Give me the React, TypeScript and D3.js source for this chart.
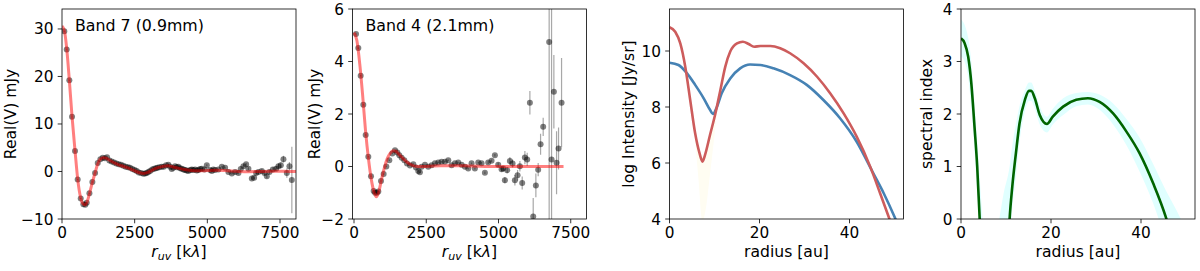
import React from "react";
import * as d3 from "d3";

// ---- Band 7 visibilities: [r_uv (kλ), Re(V) (mJy), error]
const band7Vis: [number, number, number][] = [
  [79, 29.5, 0.1], [162, 25.7, 0.1], [252, 19.2, 0.1], [345, 11.5, 0.1], [448, 4.3, 0.1],
  [540, -1.7, 0.1], [644, -5.7, 0.1], [735, -6.9, 0.1], [800, -7.0, 0.1], [850, -6.6, 0.1],
  [943, -4.6, 0.1], [1045, -2.2, 0.1], [1138, -0.3, 0.1], [1229, 1.8, 0.1], [1320, 2.6, 0.1],
  [1400, 2.9, 0.1], [1480, 2.8, 0.1], [1550, 3.0, 0.1], [1630, 2.3, 0.1], [1710, 2.1, 0.1],
  [1790, 1.9, 0.1], [1870, 1.7, 0.1], [1950, 1.5, 0.1], [2030, 1.4, 0.1], [2110, 1.2, 0.1],
  [2190, 1.0, 0.1], [2270, 0.9, 0.1], [2341, 0.8, 0.1], [2420, 0.5, 0.1], [2500, 0.3, 0.1],
  [2570, 0.1, 0.1], [2640, -0.2, 0.1], [2720, -0.3, 0.1], [2799, -0.5, 0.1], [2860, -0.4, 0.1],
  [2914, -0.3, 0.1], [2970, -0.1, 0.1], [3029, 0.1, 0.1], [3100, 0.4, 0.1], [3167, 0.6, 0.1],
  [3230, 0.7, 0.1], [3282, 0.8, 0.1], [3350, 0.9, 0.1], [3432, 1.0, 0.1], [3500, 1.0, 0.1],
  [3580, 1.3, 0.1], [3660, 1.4, 0.1], [3720, 1.0, 0.1], [3776, 0.5, 0.1], [3830, 0.8, 0.1],
  [3890, 1.1, 0.1], [3950, 0.9, 0.1], [4004, 1.0, 0.1], [4060, 0.7, 0.1], [4120, 0.6, 0.1],
  [4180, 0.4, 0.1], [4234, 0.3, 0.1], [4290, 0.2, 0.1], [4348, 0.1, 0.1], [4410, 0.3, 0.1],
  [4465, 0.4, 0.1], [4520, 0.3, 0.1], [4578, 0.4, 0.1], [4640, 0.2, 0.1], [4692, 0.3, 0.1],
  [4750, 0.5, 0.1], [4809, 0.6, 0.1], [4900, 0.4, 0.2], [4981, 1.3, 0.2], [5095, 0.3, 0.2],
  [5153, 0.1, 0.2], [5208, 0.4, 0.2], [5267, 0.3, 0.2], [5381, 0.4, 0.2], [5497, 1.0, 0.2],
  [5611, 0.8, 0.2], [5725, -0.1, 0.2], [5842, -0.4, 0.3], [5955, -0.1, 0.3], [6069, -0.3, 0.3],
  [6150, 0.5, 0.3], [6241, 1.1, 0.3], [6334, 1.5, 0.3], [6413, 0.6, 0.3], [6530, -1.5, 0.3],
  [6609, -1.3, 0.3], [6680, -0.3, 0.4], [6757, -0.1, 0.4], [6874, 0.1, 0.4], [6964, -0.3, 0.4],
  [7046, -1.0, 0.4], [7136, -0.1, 0.4], [7253, 0.4, 0.5], [7367, 0.6, 0.5], [7446, 1.1, 0.5],
  [7528, 1.3, 0.6], [7618, 2.6, 0.7], [7735, -0.3, 1.0], [7824, 1.1, 0.9], [7907, -1.8, 7.0],
];

const band7Model: [number, number][] = [
  [0, 30.6], [80, 29.7], [160, 26.0], [250, 19.4], [345, 11.6], [448, 4.4], [540, -1.6],
  [644, -5.6], [720, -6.8], [780, -7.0], [850, -6.6], [943, -4.7], [1045, -2.3], [1138, -0.3],
  [1229, 1.6], [1320, 2.6], [1420, 2.9], [1520, 2.8], [1650, 2.3], [1800, 1.8], [1950, 1.4],
  [2100, 1.1], [2250, 0.8], [2400, 0.4], [2550, 0.0], [2700, -0.3], [2800, -0.4], [2950, -0.2],
  [3100, 0.3], [3300, 0.8], [3500, 1.1], [3650, 1.2], [3800, 1.0], [4000, 0.7], [4200, 0.4],
  [4450, 0.2], [4700, 0.15], [5000, 0.2], [5300, 0.25], [5600, 0.2], [6000, 0.05],
  [6400, -0.05], [6800, 0], [7200, 0.05], [7600, 0.05], [8050, 0],
];

// ---- Band 4 visibilities
const band4Vis: [number, number, number][] = [
  [69, 5.05, 0.03], [149, 4.51, 0.03], [231, 3.46, 0.03], [322, 2.35, 0.03], [404, 1.2, 0.03],
  [495, 0.37, 0.03], [588, -0.37, 0.03], [680, -0.93, 0.03], [730, -1.0, 0.03], [790, -1.0, 0.03],
  [841, -0.95, 0.03], [934, -0.55, 0.03], [1026, -0.29, 0.03], [1118, 0.0, 0.03], [1222, 0.24, 0.03],
  [1326, 0.5, 0.03], [1418, 0.62, 0.03], [1499, 0.53, 0.03], [1568, 0.43, 0.03], [1649, 0.33, 0.03],
  [1741, 0.24, 0.03], [1833, 0.11, 0.03], [1937, 0.04, 0.03], [2052, 0.09, 0.03], [2144, -0.04, 0.03],
  [2224, -0.17, 0.03], [2280, -0.22, 0.03], [2340, -0.01, 0.03], [2455, 0.07, 0.03], [2570, -0.01, 0.03],
  [2686, 0.05, 0.03], [2801, 0.12, 0.03], [2916, 0.15, 0.03], [3031, 0.18, 0.03], [3146, 0.18, 0.03],
  [3262, 0.24, 0.03], [3377, 0.05, 0.03], [3492, 0.12, 0.03], [3607, 0.15, 0.03], [3722, 0.07, 0.03],
  [3838, -0.01, 0.03], [3953, -0.08, 0.03], [4068, 0.12, 0.03], [4183, -0.08, 0.03], [4299, 0.15, 0.03],
  [4414, 0.12, 0.05], [4529, -0.24, 0.05], [4644, 0.15, 0.05], [4760, 0.22, 0.05], [4875, 0.43, 0.05],
  [4990, 0.07, 0.08], [5106, -0.1, 0.1], [5163, -0.08, 0.1], [5221, -0.52, 0.12], [5301, -0.14, 0.12],
  [5394, 0.21, 0.15], [5487, 0.11, 0.15], [5567, -0.52, 0.2], [5660, -0.33, 0.2], [5740, 0.01, 0.2],
  [5820, -0.63, 0.25], [5913, 0.34, 0.25], [5993, 0.27, 0.25], [6086, 2.43, 0.45], [6201, -1.9, 0.7],
  [6293, -0.72, 0.45], [6373, -0.12, 0.25], [6456, 0.85, 0.4], [6546, 1.51, 0.35], [6753, 4.74, 7.0],
  [6836, 0.27, 6.0], [6916, 2.85, 1.4], [7009, 0.14, 1.2], [7078, 0.69, 0.8], [7182, 2.43, 1.7],
];

const band4Model: [number, number][] = [
  [0, 5.1], [100, 4.8], [200, 3.9], [300, 2.7], [400, 1.35], [500, 0.3], [600, -0.5],
  [700, -1.0], [770, -1.15], [860, -0.95], [950, -0.5], [1050, -0.05], [1150, 0.3],
  [1250, 0.5], [1350, 0.6], [1450, 0.58], [1550, 0.47], [1700, 0.3], [1850, 0.15],
  [2000, 0.05], [2200, 0.0], [2500, 0.0], [3000, 0.03], [3500, 0.03], [4000, 0.02],
  [5000, 0], [6000, 0], [7250, 0],
];

// ---- Intensity profiles: [radius (au), log I (Jy/sr)]
const profileRed: [number, number][] = [
  [0, 10.85], [1.27, 10.69], [2.4, 10.27], [3.5, 9.44], [4.6, 8.25], [5.7, 7.06], [6.67, 6.35],
  [7.33, 6.05], [7.9, 6.29], [9.0, 7.0], [10.2, 7.77], [11.3, 8.6], [12.4, 9.44], [13.5, 9.98],
  [15.0, 10.27], [16.3, 10.33], [17.6, 10.25], [18.8, 10.15], [20.2, 10.18], [22.4, 10.18],
  [24.6, 10.1], [26.8, 9.92], [29.8, 9.56], [32.8, 9.08], [35.7, 8.49], [38.7, 7.77],
  [41.6, 6.94], [44.6, 5.87], [46.8, 4.92], [48.7, 4.08], [50, 3.5],
];

const profileBlue: [number, number][] = [
  [0, 9.58], [2.0, 9.5], [3.9, 9.2], [5.7, 8.79], [7.6, 8.31], [9.0, 7.9], [9.65, 7.75],
  [10.4, 7.95], [11.6, 8.49], [13.5, 9.02], [15.7, 9.38], [17.9, 9.52], [20.2, 9.5],
  [23.1, 9.38], [26.8, 9.14], [30.5, 8.79], [34.2, 8.25], [37.9, 7.6], [41.6, 6.76],
  [45.3, 5.63], [47.6, 4.92], [50, 4.08], [51, 3.7],
];

// faint uncertainty around the gap of the red profile: [radius, low, high]
const profileRedBand: [number, number, number][] = [
  [5.5, 7.2, 7.3], [6.5, 5.3, 6.45], [7.3, 3.9, 6.05], [8.0, 4.3, 6.35], [9.0, 5.6, 7.0],
  [10.0, 7.0, 7.65], [10.8, 8.2, 8.3],
];

// ---- Spectral index: [radius, alpha]
const alphaInner: [number, number][] = [
  [0, 3.44], [0.8, 3.35], [1.6, 3.09], [2.3, 2.58], [3.0, 1.76], [3.6, 1.0], [4.15, 0.01], [4.4, -0.4],
];
const alphaOuter: [number, number][] = [
  [10.6, -0.3], [10.8, 0], [11.4, 0.62], [12.2, 1.25], [13.0, 1.82], [14.2, 2.27], [15.1, 2.44],
  [15.6, 2.44], [16.4, 2.3], [17.5, 1.98], [19.1, 1.81], [20.4, 1.95], [22.7, 2.14], [25.6, 2.27],
  [28.2, 2.3], [30.8, 2.23], [33.8, 2.01], [36.8, 1.66], [39.7, 1.25], [42.7, 0.68], [45.5, 0.04],
  [46, -0.1],
];
const alphaInnerBand: [number, number, number][] = [
  [0, 3.1, 3.8], [0.8, 3.0, 3.7], [1.6, 2.7, 3.45], [2.3, 2.1, 3.0], [3.0, 1.3, 2.2],
  [3.6, 0.5, 1.5], [4.3, -0.5, 0.6], [4.8, -1, 0],
];
const alphaOuterBand: [number, number, number][] = [
  [8.5, -1, 0], [9.5, -0.8, 0.5], [10.8, -0.5, 1.0], [11.4, 0.2, 1.4], [12.2, 0.8, 1.8],
  [13.0, 1.45, 2.15], [14.2, 2.05, 2.45], [15.1, 2.25, 2.6], [15.6, 2.25, 2.6], [16.4, 2.1, 2.45],
  [17.5, 1.8, 2.15], [19.1, 1.65, 1.95], [20.4, 1.8, 2.1], [22.7, 1.98, 2.3], [25.6, 2.15, 2.4],
  [28.2, 2.18, 2.42], [30.8, 2.08, 2.37], [33.8, 1.8, 2.2], [36.8, 1.4, 1.9], [39.7, 0.9, 1.55],
  [42.7, 0.3, 1.05], [45.5, -0.4, 0.55], [48, -1, 0.15], [50, -1.5, -0.2],
];

// ---- ticks
const uvTicks = [0, 2500, 5000, 7500];
const band7YTicks = [-10, 0, 10, 20, 30];
const band4YTicks = [-2, 0, 2, 4, 6];
const radiusTicks = [0, 20, 40];
const intensityTicks = [4, 6, 8, 10];
const alphaTicks = [0, 1, 2, 3, 4];

const FONT = "DejaVu Sans";
const TOP = 9;
const BOTTOM = 219;
const PW = 234;
const TICK = 4.3;
const fmt = (v: number) => (v < 0 ? "\u2212" + Math.abs(v) : String(v));

type Sc = d3.ScaleLinear<number, number>;

function Frame({ x, y, xTicks, yTicks, yLabel, xLabel, id, children }: any) {
  const [x0, x1] = x.range();
  const mid = (x0 + x1) / 2;
  return (
    <g>
      <clipPath id={id}>
        <rect x={x0} y={TOP} width={x1 - x0} height={BOTTOM - TOP} />
      </clipPath>
      <g clipPath={`url(#${id})`}>{children}</g>
      <rect x={x0} y={TOP} width={x1 - x0} height={BOTTOM - TOP} fill="none" stroke="#000" strokeWidth={0.8} />
      {xTicks.map((t: number) => (
        <g key={"x" + t}>
          <line x1={x(t)} x2={x(t)} y1={BOTTOM} y2={BOTTOM + TICK} stroke="#000" strokeWidth={0.8} />
          <text x={x(t)} y={BOTTOM + 19} textAnchor="middle" fontSize={15.3}>{fmt(t)}</text>
        </g>
      ))}
      {yTicks.map((t: number) => (
        <g key={"y" + t}>
          <line x1={x0 - TICK} x2={x0} y1={y(t)} y2={y(t)} stroke="#000" strokeWidth={0.8} />
          <text x={x0 - 8.6} y={y(t) + 5.5} textAnchor="end" fontSize={15.3}>{fmt(t)}</text>
        </g>
      ))}
      <text transform={`translate(${yLabel.x},${(TOP + BOTTOM) / 2}) rotate(-90)`} textAnchor="middle" fontSize={15.6}>
        {yLabel.text}
      </text>
      <text x={mid} y={257} textAnchor="middle" fontSize={15.6}>
        {xLabel === "uv" ? (
          <>
            <tspan fontStyle="italic">r</tspan>
            <tspan fontStyle="italic" fontSize={11} dy={3}>uv</tspan>
            <tspan dy={-3}> [k</tspan>
            <tspan fontStyle="italic">λ</tspan>
            <tspan>]</tspan>
          </>
        ) : (
          "radius [au]"
        )}
      </text>
    </g>
  );
}

function VisPanel({ left, xDomain, yDomain, yTicks, points, model, title, labelX, id }: any) {
  const x: Sc = d3.scaleLinear().domain(xDomain).range([left, left + PW]);
  const y: Sc = d3.scaleLinear().domain(yDomain).range([BOTTOM, TOP]);
  const line = d3.line<[number, number]>().x((d) => x(d[0])).y((d) => y(d[1])).curve(d3.curveMonotoneX);
  return (
    <Frame x={x} y={y} xTicks={uvTicks} yTicks={yTicks} yLabel={{ x: labelX, text: "Real(V) mJy" }} xLabel="uv" id={id}>
      {points.map((p: [number, number, number], i: number) => (
        <line key={"e" + i} x1={x(p[0])} x2={x(p[0])} y1={y(p[1] - p[2])} y2={y(p[1] + p[2])} stroke="#a8a8a8" strokeWidth={1.2} />
      ))}
      {points.map((p: [number, number, number], i: number) => (
        <circle key={"p" + i} cx={x(p[0])} cy={y(p[1])} r={3} fill="#000" fillOpacity={0.5} />
      ))}
      <path d={line(model) || ""} fill="none" stroke="red" strokeOpacity={0.5} strokeWidth={3} />
      <text x={left + 13} y={31} fontSize={15.8}>{title}</text>
    </Frame>
  );
}

function IntensityPanel() {
  const left = 669.5;
  const x: Sc = d3.scaleLinear().domain([0, 52]).range([left, left + PW]);
  const y: Sc = d3.scaleLinear().domain([4, 11.5]).range([BOTTOM, TOP]);
  const line = d3.line<[number, number]>().x((d) => x(d[0])).y((d) => y(d[1])).curve(d3.curveMonotoneX);
  const band = d3.area<[number, number, number]>().x((d) => x(d[0])).y0((d) => y(d[1])).y1((d) => y(d[2])).curve(d3.curveMonotoneX);
  return (
    <Frame x={x} y={y} xTicks={radiusTicks} yTicks={intensityTicks} yLabel={{ x: 634, text: "log Intensity [Jy/sr]" }} xLabel="r" id="c3">
      <path d={band(profileRedBand) || ""} fill="#fffdf2" />
      <path d={line(profileBlue) || ""} fill="none" stroke="#4682b4" strokeWidth={2.6} />
      <path d={line(profileRed) || ""} fill="none" stroke="#cd5c5c" strokeWidth={2.6} />
    </Frame>
  );
}

function AlphaPanel() {
  const left = 961;
  const x: Sc = d3.scaleLinear().domain([0, 52]).range([left, left + PW]);
  const y: Sc = d3.scaleLinear().domain([0, 4]).range([BOTTOM, TOP]);
  const line = d3.line<[number, number]>().x((d) => x(d[0])).y((d) => y(d[1])).curve(d3.curveMonotoneX);
  const band = d3.area<[number, number, number]>().x((d) => x(d[0])).y0((d) => y(d[1])).y1((d) => y(d[2])).curve(d3.curveMonotoneX);
  return (
    <Frame x={x} y={y} xTicks={radiusTicks} yTicks={alphaTicks} yLabel={{ x: 932, text: "spectral index" }} xLabel="r" id="c4">
      <path d={band(alphaInnerBand) || ""} fill="#e0ffff" />
      <path d={band(alphaOuterBand) || ""} fill="#e0ffff" />
      <path d={line(alphaInner) || ""} fill="none" stroke="#006400" strokeWidth={2.6} />
      <path d={line(alphaOuter) || ""} fill="none" stroke="#006400" strokeWidth={2.6} />
    </Frame>
  );
}

export default function App() {
  return (
    <svg width={1200} height={271} style={{ position: "absolute", left: 0, top: 0, background: "#fff" }} fontFamily={FONT}>
      <rect width={1200} height={271} fill="#fff" />
      <VisPanel left={62} xDomain={[0, 8050]} yDomain={[-10, 34.2]} yTicks={band7YTicks} points={band7Vis} model={band7Model} title="Band 7 (0.9mm)" labelX={16} id="c1" />
      <VisPanel left={352.5} xDomain={[-52, 8045]} yDomain={[-2, 6]} yTicks={band4YTicks} points={band4Vis} model={band4Model} title="Band 4 (2.1mm)" labelX={319.5} id="c2" />
      <IntensityPanel />
      <AlphaPanel />
    </svg>
  );
}
